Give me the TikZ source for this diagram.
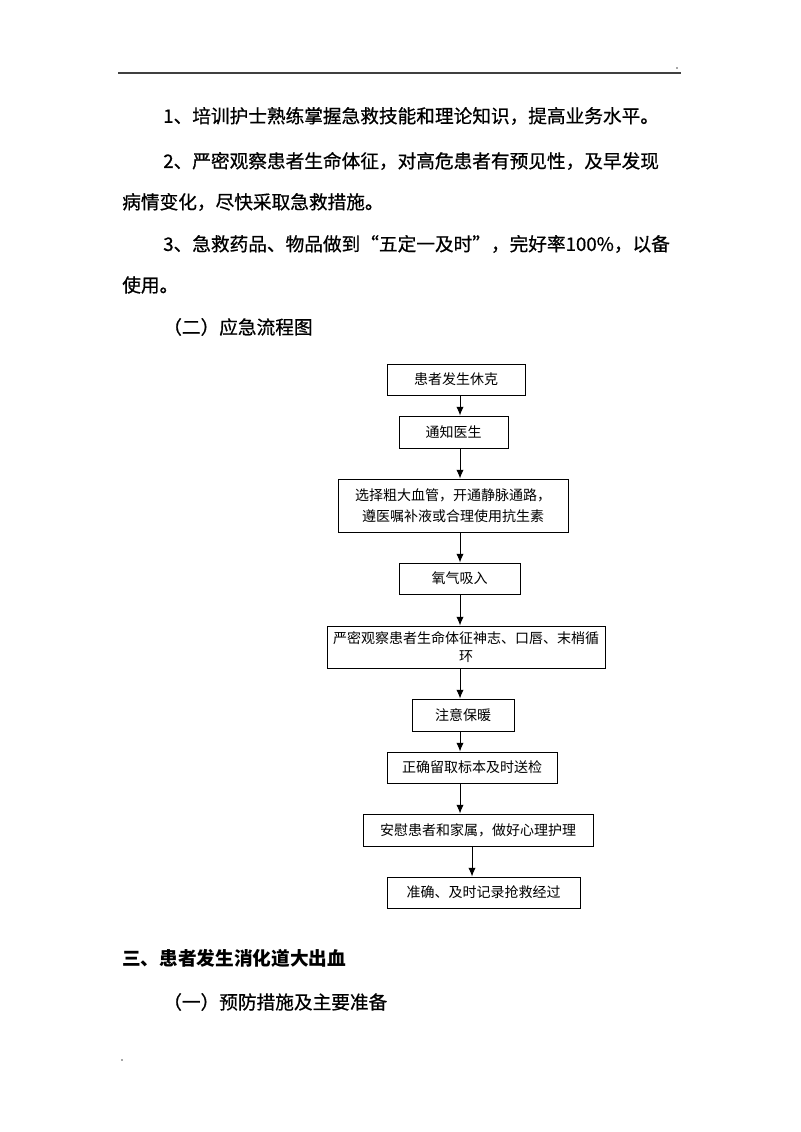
\documentclass[tikz,border=0pt]{standalone}
\usepackage{fontspec}
\usetikzlibrary{arrows.meta}
\newfontfamily\cjk{Noto Sans CJK SC}
\newfontfamily\cjkmed[FakeBold=0.7]{Noto Sans CJK SC}
\newcommand\bodyfont{\cjkmed\fontsize{14pt}{16pt}\selectfont}
\newcommand\headfont{\cjk\bfseries\fontsize{14pt}{16pt}\selectfont}
\newcommand\boxfont{\cjk\fontsize{10.5pt}{15.75pt}\selectfont}
\tikzset{
  bodytext/.style={anchor=west, inner sep=0pt, font=\bodyfont, text=black},
  headtext/.style={anchor=west, inner sep=0pt, font=\headfont, text=black},
  flowbox/.style={draw=black, line width=0.75pt, inner sep=0pt, align=center, font=\boxfont},
  bsize/.style 2 args={minimum width=#1*0.75pt, minimum height=#2*0.75pt},
  arr/.style={draw=black, line width=0.75pt, -{Latex[length=6.5pt,width=5.5pt]}},
  pagedot/.style={circle, fill=black!70, inner sep=0pt, minimum size=1.3pt},
}
\begin{document}
\begin{tikzpicture}[x=0.75pt,y=-0.75pt]
\useasboundingbox (0,0) rectangle (800,1132);
% header rule and marks
\coordinate (rl) at (118,73);
\coordinate (rr) at (681,73);
\draw[line width=1.2pt, black!75] (rl) -- (rr);
\node[pagedot] (dot1) at (677,68) {};
\node[pagedot] (dot2) at (122,1060) {};

% body text
\node[bodytext] (l1) at (163,116) {1、培训护士熟练掌握急救技能和理论知识，提高业务水平。};
\node[bodytext] (l2) at (163,161) {2、严密观察患者生命体征，对高危患者有预见性，及早发现};
\node[bodytext] (l3) at (122,202) {病情变化，尽快采取急救措施。};
\node[bodytext] (l4) at (163,244) {3、急救药品、物品做到“五定一及时”，完好率100\%，以备};
\node[bodytext] (l5) at (122,285) {使用。};
\node[bodytext] (l6) at (163,327) {（二）应急流程图};

% flowchart
\node[flowbox, bsize={138}{31}] (b1) at (456,379.5) {患者发生休克};
\node[flowbox, bsize={109}{32}] (b2) at (453.5,432) {通知医生};
\node[flowbox, bsize={230}{53}] (b3) at (453,505.5) {选择粗大血管，开通静脉通路，\\遵医嘱补液或合理使用抗生素};
\node[flowbox, bsize={121}{31}] (b4) at (459.5,578.5) {氧气吸入};
\node[flowbox, bsize={278}{42}, font=\cjk\fontsize{10.5pt}{13.5pt}\selectfont] (b5) at (466,647) {严密观察患者生命体征神志、口唇、末梢循\\环};
\node[flowbox, bsize={102}{32}] (b6) at (463,715) {注意保暖};
\node[flowbox, bsize={170}{31}] (b7) at (472,767.5) {正确留取标本及时送检};
\node[flowbox, bsize={230}{32}] (b8) at (478,830) {安慰患者和家属，做好心理护理};
\node[flowbox, bsize={193}{31}] (b9) at (483.5,892.5) {准确、及时记录抢救经过};

\coordinate (ax) at (460,0);
\coordinate (bx) at (472,0);
\draw[arr] (b1.south -| ax) -- (b2.north -| ax);
\draw[arr] (b2.south -| ax) -- (b3.north -| ax);
\draw[arr] (b3.south -| ax) -- (b4.north -| ax);
\draw[arr] (b4.south -| ax) -- (b5.north -| ax);
\draw[arr] (b5.south -| ax) -- (b6.north -| ax);
\draw[arr] (b6.south -| ax) -- (b7.north -| ax);
\draw[arr] (b7.south -| ax) -- (b8.north -| ax);
\draw[arr] (b8.south -| bx) -- (b9.north -| bx);

% following section
\node[headtext] (h3) at (122,958) {三、患者发生消化道大出血};
\node[bodytext] (h31) at (163,1002) {（一）预防措施及主要准备};
\end{tikzpicture}
\end{document}
